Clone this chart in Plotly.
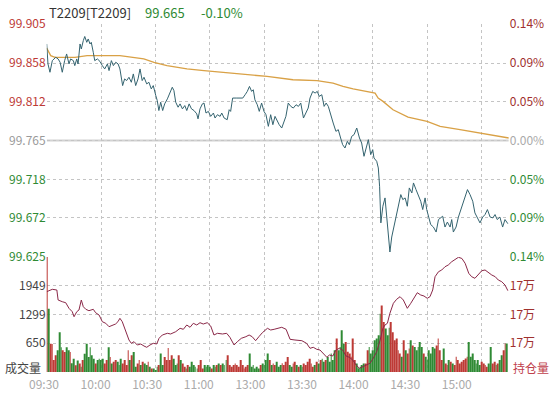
import numpy as np
import plotly.graph_objects as go

W, H = 551, 393

# ---------------- data ----------------
symbol = "T2209[T2209]"
last_price = "99.665"
last_change = "-0.10%"
time_labels = ["09:30", "10:00", "10:30", "11:00", "13:00", "13:30", "14:00", "14:30", "15:00"]

# (trading minute since 09:30, price)
price_points = [
    (0.0, 99.881), (0.7, 99.857), (1.8, 99.847), (3.1, 99.861), (5.0, 99.865), (6.3, 99.863),
    (7.4, 99.859), (8.6, 99.847), (9.9, 99.861), (11.0, 99.869), (12.3, 99.857), (13.2, 99.863),
    (14.7, 99.861), (15.5, 99.855), (16.6, 99.863), (17.3, 99.857), (18.4, 99.881), (19.1, 99.875),
    (20.2, 99.885), (21.0, 99.890), (22.1, 99.883), (22.9, 99.887), (23.9, 99.881), (24.6, 99.883),
    (25.7, 99.871), (26.5, 99.861), (28.0, 99.863), (29.4, 99.860), (30.7, 99.855), (32.0, 99.851),
    (33.5, 99.857), (34.4, 99.849), (35.7, 99.861), (36.8, 99.855), (38.1, 99.859), (39.4, 99.857),
    (40.4, 99.851), (41.1, 99.839), (41.9, 99.831), (43.0, 99.839), (44.1, 99.837), (45.4, 99.841),
    (46.7, 99.835), (47.8, 99.845), (49.1, 99.831), (50.4, 99.839), (51.5, 99.851), (52.7, 99.837),
    (53.7, 99.841), (55.2, 99.833), (56.4, 99.835), (57.7, 99.827), (58.8, 99.831), (60.2, 99.819),
    (61.0, 99.813), (61.9, 99.801), (62.9, 99.811), (64.0, 99.801), (65.1, 99.809), (66.6, 99.815),
    (68.0, 99.823), (69.3, 99.829), (70.2, 99.825), (71.2, 99.811), (72.5, 99.805), (73.6, 99.809),
    (74.9, 99.803), (76.2, 99.807), (77.3, 99.801), (78.6, 99.809), (79.9, 99.803), (81.3, 99.801),
    (82.8, 99.797), (83.5, 99.791), (84.6, 99.803), (85.9, 99.809), (86.8, 99.810), (87.9, 99.798),
    (89.2, 99.800), (90.5, 99.794), (92.0, 99.798), (92.9, 99.792), (94.2, 99.796), (95.7, 99.794),
    (96.6, 99.798), (97.9, 99.792), (99.6, 99.790), (100.7, 99.802), (101.5, 99.800), (102.6, 99.816),
    (104.9, 99.816), (108.2, 99.816), (109.5, 99.820), (110.7, 99.824), (111.9, 99.830), (113.1, 99.824),
    (114.0, 99.826), (114.9, 99.814), (116.2, 99.808), (117.3, 99.800), (118.6, 99.810), (119.9, 99.800),
    (121.0, 99.796), (122.3, 99.782), (123.6, 99.796), (124.8, 99.784), (126.0, 99.794), (127.3, 99.788),
    (128.3, 99.784), (129.7, 99.780), (130.9, 99.788), (132.0, 99.794), (133.3, 99.810), (134.7, 99.806),
    (136.1, 99.804), (137.6, 99.808), (138.9, 99.806), (140.2, 99.810), (141.7, 99.792), (143.1, 99.798),
    (144.3, 99.804), (145.3, 99.816), (146.8, 99.824), (148.1, 99.822), (149.3, 99.824), (150.4, 99.818),
    (151.8, 99.820), (153.1, 99.806), (154.2, 99.810), (155.4, 99.806), (156.8, 99.794), (158.1, 99.786),
    (159.6, 99.776), (160.9, 99.778), (162.2, 99.768), (163.3, 99.760), (164.6, 99.756), (165.9, 99.764),
    (167.0, 99.760), (168.3, 99.770), (169.6, 99.772), (171.1, 99.780), (172.6, 99.768), (173.8, 99.762),
    (175.1, 99.746), (176.2, 99.756), (177.5, 99.766), (178.8, 99.748), (179.9, 99.754), (180.6, 99.744),
    (182.1, 99.740), (183.0, 99.732), (183.7, 99.710), (184.4, 99.666), (185.5, 99.686), (186.7, 99.696),
    (187.7, 99.670), (188.5, 99.649), (189.4, 99.631), (190.4, 99.649), (191.6, 99.661), (193.1, 99.678),
    (194.0, 99.688), (195.4, 99.700), (196.5, 99.694), (197.8, 99.696), (199.0, 99.686), (200.1, 99.708),
    (201.5, 99.702), (202.4, 99.714), (203.8, 99.706), (205.0, 99.700), (206.4, 99.692), (207.5, 99.682),
    (208.8, 99.696), (209.7, 99.682), (210.6, 99.673), (211.9, 99.664), (213.4, 99.661), (214.9, 99.655),
    (216.2, 99.670), (217.5, 99.672), (218.5, 99.674), (219.8, 99.661), (221.1, 99.667), (222.6, 99.661),
    (223.5, 99.670), (224.4, 99.655), (225.9, 99.661), (227.2, 99.673), (229.1, 99.686), (230.9, 99.696),
    (232.2, 99.706), (233.6, 99.700), (235.1, 99.692), (236.3, 99.678), (237.6, 99.673), (239.1, 99.666),
    (240.6, 99.673), (241.9, 99.676), (243.2, 99.682), (244.7, 99.673), (246.2, 99.672), (247.4, 99.676),
    (248.6, 99.670), (250.1, 99.673), (251.6, 99.661), (252.9, 99.670), (254.5, 99.665),
]

# average price line
avg_points = [
    (0.0, 99.876), (2.2, 99.867), (4.6, 99.865), (15.6, 99.865), (22.3, 99.867), (40.4, 99.867),
    (53.6, 99.863), (59.2, 99.859), (66.4, 99.855), (77.4, 99.851), (86.8, 99.849), (102.8, 99.846),
    (112.2, 99.844), (121.6, 99.842), (135.9, 99.838), (149.2, 99.837), (158.0, 99.834), (163.5, 99.830),
    (169.1, 99.827), (176.7, 99.824), (181.2, 99.822), (182.9, 99.816), (185.6, 99.812), (191.1, 99.802),
    (199.4, 99.793), (209.9, 99.788), (217.1, 99.782), (228.1, 99.778), (240.8, 99.773), (255.0, 99.768),
]

# open interest (持仓量)
oi_points = [
    (0.0, 171793), (3.1, 171876), (5.6, 171852), (6.3, 171504), (8.6, 171445), (10.5, 171410),
    (12.3, 171215), (14.1, 171097), (15.1, 170923), (16.6, 171097), (17.8, 171156), (19.1, 171504),
    (20.2, 171271), (21.6, 171181), (23.3, 171132), (25.7, 171181), (27.0, 171062), (28.9, 170982),
    (30.7, 170749), (32.6, 170694), (34.4, 170576), (36.2, 170635), (38.0, 170669), (39.3, 170749),
    (40.4, 170868), (41.7, 170749), (43.6, 170402), (45.4, 170113), (46.7, 169998), (48.2, 170054),
    (50.0, 169939), (51.9, 169974), (53.7, 169904), (55.2, 169859), (57.0, 169939), (58.8, 169998),
    (60.7, 169974), (62.0, 170172), (63.8, 170287), (66.6, 170346), (68.4, 170322), (71.2, 170402),
    (73.6, 170520), (75.4, 170485), (77.3, 170635), (79.1, 170555), (80.9, 170694), (82.8, 170635),
    (84.6, 170715), (86.4, 170669), (88.6, 170715), (90.5, 170600), (92.3, 170287), (94.2, 170346),
    (97.0, 170322), (99.3, 170346), (101.1, 170207), (103.4, 169939), (105.2, 170054), (107.4, 170172),
    (109.9, 170228), (111.7, 170287), (113.4, 170228), (115.3, 170089), (117.1, 170228), (119.0, 170367),
    (121.8, 170520), (123.6, 170461), (125.5, 170485), (129.7, 170555), (132.1, 170485), (134.3, 170137),
    (137.0, 170113), (140.8, 170089), (143.4, 169998), (145.3, 169824), (147.1, 169859), (149.0, 169790),
    (150.8, 169765), (152.7, 169650), (154.6, 169511), (156.0, 169591), (157.9, 169556), (159.6, 169765),
    (161.5, 169824), (163.3, 169765), (165.2, 169556), (167.0, 169511), (168.9, 169417), (170.7, 169243),
    (172.6, 169129), (174.4, 169184), (176.6, 169243), (178.4, 169303), (180.2, 169476), (182.1, 169706),
    (184.0, 170113), (185.5, 170520), (186.7, 170635), (188.0, 170694), (189.4, 171042), (191.3, 171389),
    (193.1, 171529), (195.0, 171619), (196.8, 171504), (199.0, 171215), (200.9, 171389), (202.8, 171563),
    (204.5, 171758), (206.4, 171678), (208.2, 171643), (210.0, 171563), (211.5, 171619), (213.0, 171852),
    (214.3, 172315), (216.2, 172488), (218.0, 172548), (219.8, 172662), (221.6, 172722), (223.5, 172836),
    (225.3, 172920), (227.2, 172990), (229.1, 172950), (230.9, 172781), (232.9, 172433), (234.5, 172315),
    (236.3, 172259), (238.2, 172374), (240.1, 172523), (241.9, 172548), (243.7, 172454), (245.6, 172374),
    (247.5, 172315), (249.2, 172200), (251.1, 172141), (252.9, 172026), (254.5, 171828),
]

# volume per minute (成交量)
volume = [
    2600, 1430, 640, 630, 270, 380, 490, 900, 560, 490,
    450, 560, 490, 450, 200, 300, 150, 260, 190, 120,
    270, 410, 640, 340, 560, 380, 300, 190, 270, 300,
    270, 300, 190, 270, 560, 340, 190, 230, 270, 230,
    160, 300, 190, 270, 160, 490, 270, 380, 450, 120,
    190, 270, 160, 230, 190, 160, 230, 120, 80, 80,
    45, 120, 160, 420, 160, 340, 270, 540, 270, 380,
    300, 160, 190, 380, 270, 190, 120, 80, 160, 120,
    230, 160, 120, 80, 160, 270, 80, 160, 120, 160,
    120, 80, 160, 120, 160, 190, 160, 190, 160, 270,
    380, 160, 120, 160, 190, 160, 120, 270, 160, 80,
    120, 160, 420, 120, 160, 80, 120, 80, 160, 190,
    160, 270, 420, 270, 160, 190, 160, 230, 120, 160,
    200, 160, 230, 340, 160, 120, 190, 230, 160, 120,
    160, 120, 190, 160, 230, 300, 190, 120, 160, 230,
    190, 270, 300, 230, 270, 340, 230, 420, 270, 490,
    755, 490, 567, 941, 640, 680, 455, 418, 343, 755,
    269, 194, 82, 119, 157, 194, 194, 493, 567, 418,
    493, 715, 755, 830, 1315, 1500, 1130, 980, 830, 1000,
    1130, 900, 715, 755, 493, 418, 343, 715, 493, 418,
    530, 715, 600, 567, 493, 567, 680, 567, 418, 343,
    269, 493, 418, 567, 530, 600, 755, 493, 269, 530,
    194, 157, 269, 231, 194, 157, 343, 269, 194, 231,
    269, 306, 343, 680, 343, 418, 269, 194, 269, 157,
    231, 194, 157, 119, 194, 567, 194, 231, 157, 194,
    269, 381, 493, 642, 642,
]

prev_settle = 99.765
price_tick_labels = ["99.625", "99.672", "99.718", "99.765", "99.812", "99.858", "99.905"]
pct_tick_labels = ["0.14%", "0.09%", "0.05%", "0.00%", "0.05%", "0.09%", "0.14%"]
vol_tick_labels = ["650", "1299", "1949"]
vol_max = 2598
oi_range = [169000, 173000]
oi_ticks = [170000, 171000, 172000]
oi_tick_labels = ["17万", "17万", "17万"]
session_minutes = 255

# ---------------- styling ----------------
RED = "#bd3a35"
DRED = "#a0302e"
GREEN = "#2f8a34"
GRAY_TXT = "#9a9a9a"
GRID = "#c4c4c4"
FONT = "Noto Sans CJK SC"

px_left, px_right = 46.7, 508.8
py_top, py_mid, py_bot = 24, 257, 372
xd = [px_left / W, px_right / W]
yd_price = [(H - py_mid) / H, (H - py_top) / H]
yd_vol = [(H - py_bot) / H, (H - py_mid) / H]

pt = [p[0] for p in price_points]
pv = [p[1] for p in price_points]
at = [p[0] for p in avg_points]
av = [p[1] for p in avg_points]
ot = [p[0] for p in oi_points]
ov = [p[1] for p in oi_points]

minutes = np.arange(len(volume))
close_min = np.interp(minutes + 0.5, pt, pv)
bar_colors = []
for i in range(len(volume)):
    if i == 0 or close_min[i] >= close_min[i - 1]:
        bar_colors.append(RED)
    else:
        bar_colors.append(GREEN)

price_tickvals = [float(s) for s in price_tick_labels]


def side_color(v, up, flat):
    if abs(v - prev_settle) < 1e-6:
        return flat
    return up if v > prev_settle else GREEN


left_text = [f'<span style="color:{side_color(v, RED, GRAY_TXT)}">{l}</span>'
             for l, v in zip(price_tick_labels, price_tickvals)]
right_text = [f'<span style="color:{side_color(v, DRED, "#aaaaaa")}">{l}</span>'
              for l, v in zip(pct_tick_labels, price_tickvals)]

grid_t = list(range(0, session_minutes, 30)) + [session_minutes]

fig = go.Figure()

fig.add_trace(go.Bar(x=minutes, y=volume, xaxis="x2", yaxis="y2", width=0.45,
                     marker=dict(color=bar_colors, line=dict(width=0)), hoverinfo="skip"))
fig.add_trace(go.Scatter(x=ot, y=ov, xaxis="x2", yaxis="y4", mode="lines",
                         line=dict(color="#8a2848", width=1), hoverinfo="skip"))
fig.add_trace(go.Scatter(x=at, y=av, xaxis="x", yaxis="y", mode="lines",
                         line=dict(color="#d9a146", width=1.3), hoverinfo="skip"))
fig.add_trace(go.Scatter(x=pt, y=pv, xaxis="x", yaxis="y", mode="lines",
                         line=dict(color="#34636f", width=1), hoverinfo="skip"))
fig.add_trace(go.Scatter(x=pt, y=pv, xaxis="x", yaxis="y3", mode="lines",
                         line=dict(width=0), opacity=0, hoverinfo="skip"))
# carrier for the time-label axis (own hidden y axis)
fig.add_trace(go.Scatter(x=list(range(len(time_labels))), y=[0] * len(time_labels),
                         xaxis="x3", yaxis="y5", mode="markers", marker=dict(opacity=0),
                         hoverinfo="skip"))

axis_common = dict(showline=False, zeroline=False, ticks="", fixedrange=True, automargin=False)

fig.update_layout(
    width=W, height=H,
    margin=dict(l=0, r=0, t=0, b=0, autoexpand=False),
    paper_bgcolor="white", plot_bgcolor="rgba(0,0,0,0)",
    showlegend=False,
    hovermode=False,
    font=dict(family=FONT, size=12, color="#444444"),
    xaxis=dict(domain=xd, range=[0, session_minutes], anchor="y", tickvals=grid_t,
               showticklabels=False, showgrid=True, gridcolor=GRID, griddash="dot",
               gridwidth=1, **axis_common),
    xaxis2=dict(domain=xd, range=[0, session_minutes], anchor="y2", tickvals=grid_t,
                showticklabels=False, showgrid=True, gridcolor=GRID, griddash="dot",
                gridwidth=1, **axis_common),
    xaxis3=dict(domain=[0, 1], range=[-0.8527, 9.826], anchor="free",
                position=(H - 376) / H, tickvals=list(range(len(time_labels))),
                ticktext=time_labels, tickfont=dict(size=12, color="#aaaaaa", family=FONT),
                showgrid=False, **axis_common),
    yaxis5=dict(domain=yd_vol, range=[-1, 1], anchor="free", position=0, visible=False,
                fixedrange=True),
    yaxis=dict(domain=yd_price, range=[99.625, 99.905], anchor="x", side="left",
               tickvals=price_tickvals, ticktext=left_text, showgrid=True,
               gridcolor=GRID, griddash="dot", gridwidth=1,
               tickfont=dict(size=12, family=FONT), **axis_common),
    yaxis3=dict(overlaying="y", range=[99.625, 99.905], anchor="x", side="right",
                tickvals=price_tickvals, ticktext=right_text, showgrid=False,
                tickfont=dict(size=12, family=FONT), **axis_common),
    yaxis2=dict(domain=yd_vol, range=[0, vol_max], anchor="x2", side="left",
                tickvals=[float(s) for s in vol_tick_labels], ticktext=vol_tick_labels,
                showgrid=True, gridcolor=GRID, griddash="dot", gridwidth=1,
                tickfont=dict(size=12, color="#444444", family=FONT), **axis_common),
    yaxis4=dict(overlaying="y2", range=oi_range, anchor="x2", side="right",
                tickvals=oi_ticks, ticktext=oi_tick_labels, showgrid=False,
                tickfont=dict(size=12, color=DRED, family=FONT), **axis_common),
)

# solid line for the previous settlement (0.00%)
fig.add_shape(type="line", xref="x", yref="y", x0=0, x1=session_minutes,
              y0=prev_settle, y1=prev_settle, line=dict(color="#d2d2d2", width=2), layer="below")

ann_y_header = (H - 12) / H
fig.add_annotation(x=47 / W, y=ann_y_header, xref="paper", yref="paper", text=symbol,
                   showarrow=False, xanchor="left", yanchor="middle",
                   font=dict(size=13, color="#333333", family=FONT))
fig.add_annotation(x=143 / W, y=ann_y_header, xref="paper", yref="paper", text=last_price,
                   showarrow=False, xanchor="left", yanchor="middle",
                   font=dict(size=13, color=GREEN, family=FONT))
fig.add_annotation(x=199 / W, y=ann_y_header, xref="paper", yref="paper", text=last_change,
                   showarrow=False, xanchor="left", yanchor="middle",
                   font=dict(size=13, color=GREEN, family=FONT))
fig.add_annotation(x=43 / W, y=(H - 367) / H, xref="paper", yref="paper", text="成交量",
                   showarrow=False, xanchor="right", yanchor="middle",
                   font=dict(size=12, color="#444444", family=FONT))
fig.add_annotation(x=511 / W, y=(H - 367) / H, xref="paper", yref="paper", text="持仓量",
                   showarrow=False, xanchor="left", yanchor="middle",
                   font=dict(size=12, color="#c0404c", family=FONT))

fig.write_html("out.html", config={"displayModeBar": False},
               post_script="document.body.style.margin='0px';")
